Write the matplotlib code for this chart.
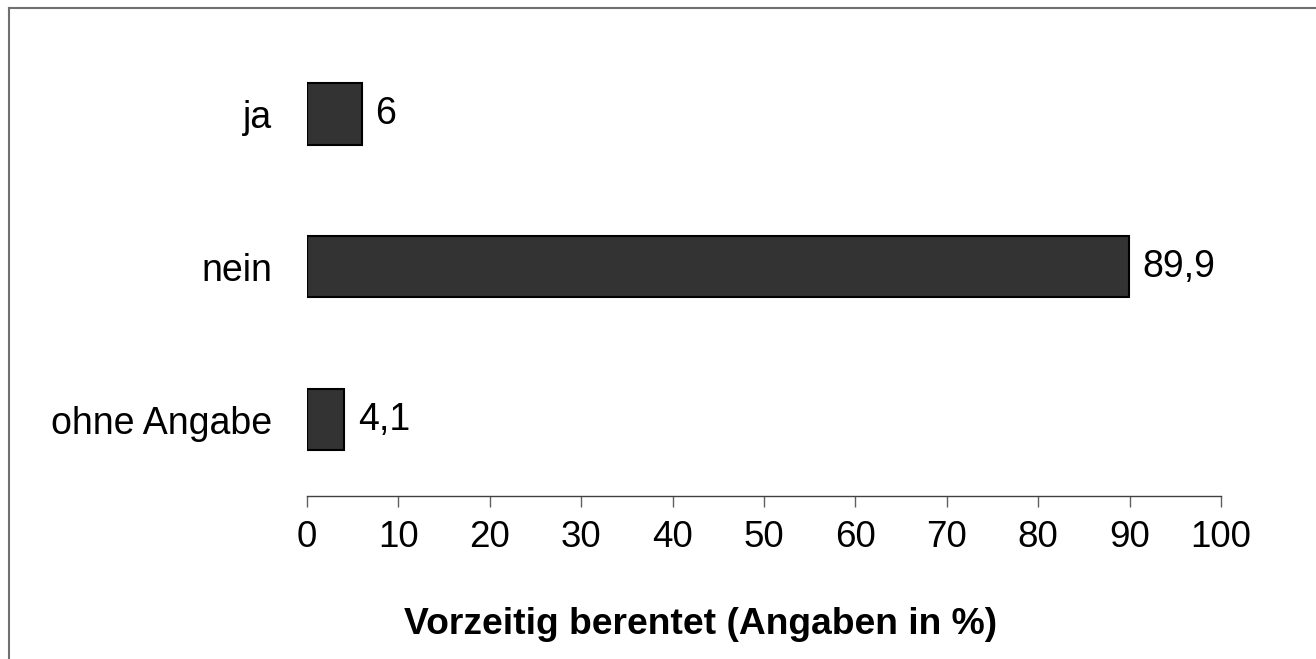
import matplotlib
matplotlib.use("Agg")
import matplotlib.pyplot as plt
from matplotlib.lines import Line2D

categories = ["ja", "nein", "ohne Angabe"]
values = [6, 89.9, 4.1]
value_labels = ["6", "89,9", "4,1"]
xticks = [0, 10, 20, 30, 40, 50, 60, 70, 80, 90, 100]

plt.rcParams['font.family'] = ['Liberation Sans', 'DejaVu Sans']

W, H = 1316, 659
fig = plt.figure(figsize=(W / 100, H / 100), dpi=100)

# axes placed so that 0..100 spans the same pixels as the original
ax = fig.add_axes([307 / W, 1 - 496 / H, (1221 - 307) / W, (496 - 37.6) / H])

ypos = list(range(len(categories)))[::-1]
ax.barh(ypos, values, height=0.4, color='#333333', edgecolor='black', linewidth=1.5)

for y, v, lab in zip(ypos, values, value_labels):
    ax.text(v + 1.5, y, lab, va='center', ha='left', fontsize=27)

ax.set_xlim(0, 100)
ax.set_ylim(-0.5, 2.5)
ax.set_yticks(ypos)
ax.set_yticklabels(categories, fontsize=27)
ax.tick_params(axis='y', length=0, pad=25)
ax.set_xticks(xticks)
ax.set_xticklabels([str(t) for t in xticks], fontsize=26.5)
ax.tick_params(axis='x', length=8, width=1, color='#606060', pad=9.5)

for side in ['top', 'right', 'left']:
    ax.spines[side].set_visible(False)
ax.spines['bottom'].set_color('#404040')
ax.spines['bottom'].set_linewidth(1)

ax.set_xlabel("Vorzeitig berentet (Angaben in %)", fontsize=26.8, fontweight='bold')
ax.xaxis.set_label_coords(0.431, -0.243)

# outer frame (cut at right and bottom like the original)
fig.add_artist(Line2D([9 / W, 1.0], [1 - 8 / H, 1 - 8 / H], transform=fig.transFigure,
                      color='#707070', linewidth=1.5))
fig.add_artist(Line2D([9 / W, 9 / W], [0, 1 - 8 / H], transform=fig.transFigure,
                      color='#707070', linewidth=1.5))

fig.savefig("out.png", dpi=100)
